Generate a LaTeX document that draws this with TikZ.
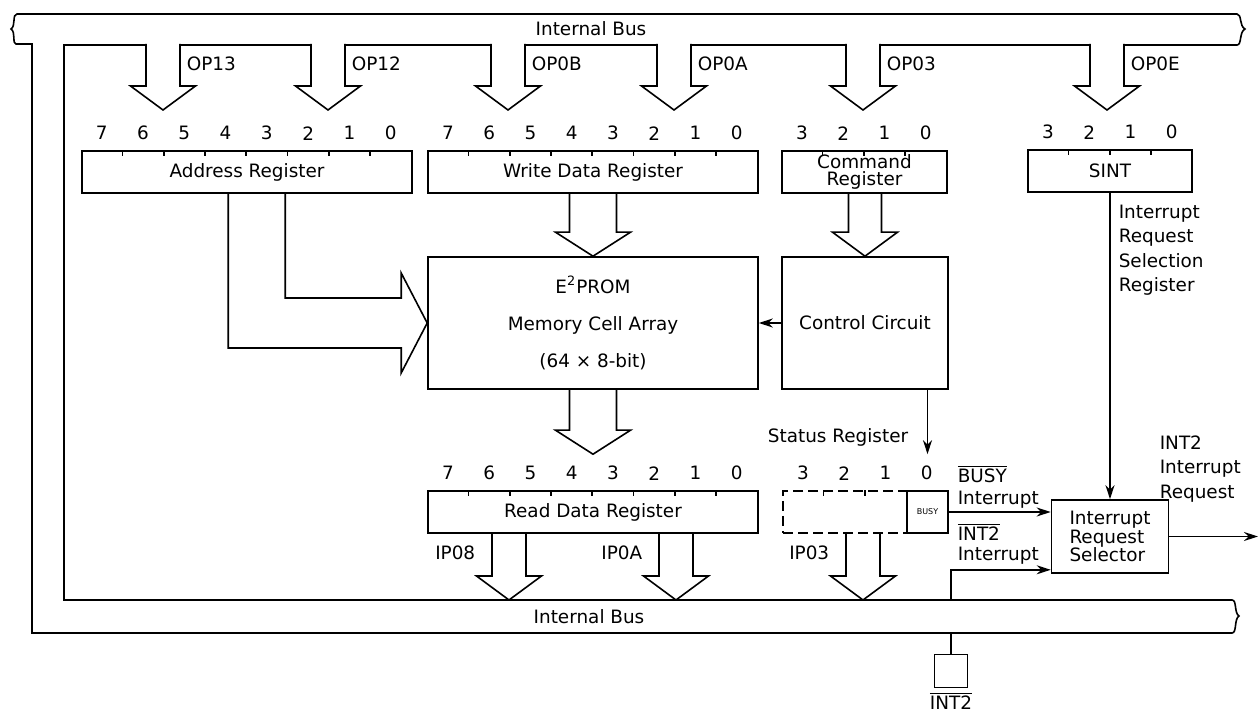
\documentclass[tikz,border=0pt]{standalone}
\usepackage{fontspec}
\setmainfont{DejaVu Sans}
\usetikzlibrary{arrows.meta, positioning, calc}

\tikzset{
    reg/.style={draw, minimum height=21pt, inner sep=0pt},
    blk/.style={draw, inner sep=0pt, align=center},
    lbl/.style={inner sep=0pt, align=left},
    bit/.style={inner sep=0pt},
    sig/.style={-{Stealth[length=7pt, width=4.5pt]}},
}

% hollow bus arrow: [options]{start}{tip}{stem half width}{head half width}
\newcommand{\fatdown}[5][]{%
    \draw[line join=miter, #1] let \p1=(#2), \p2=(#3) in
        (\x2-#4,\y1) -- (\x2-#4,\y2+12pt) -- (\x2-#5,\y2+12pt) -- (\x2,\y2)
        -- (\x2+#5,\y2+12pt) -- (\x2+#4,\y2+12pt) -- (\x2+#4,\y1);}

\begin{document}
\begin{tikzpicture}[x=0.5pt, y=-0.5pt, line width=0.8pt, font=\fontsize{9.2}{11}\selectfont]
    \useasboundingbox (0,0) rectangle (1259,715);

    % internal bus
    \draw (32,633) -- (32,44) -- (16,44) .. controls (12,44) and (16,32) .. (11,29)
        .. controls (16,26) and (12,14) .. (17,14) -- (1237,14)
        .. controls (1242,14) and (1239,26) .. (1245,29)
        .. controls (1239,32) and (1242,45) .. (1237,45) -- (64,45) -- (64,600) -- (1232,600)
        .. controls (1237,600) and (1234,613) .. (1239,616)
        .. controls (1234,619) and (1237,633) .. (1232,633) -- cycle;
    \node (bustop) at (591,29) {Internal Bus};
    \node (busbot) at (589,617) {Internal Bus};

    % registers and blocks
    \node[reg, minimum width=165pt] (addr) at (247,172) {Address Register};
    \node[reg, minimum width=165pt] (wdr) at (593,172) {Write Data Register};
    \node[reg, minimum width=82.5pt, align=center, font=\fontsize{9.2}{8.5}\selectfont] (cmd) at (864.5,172) {Command\\Register};
    \node[reg, minimum width=82pt] (sint) at (1110,171) {SINT};
    \node[blk, minimum width=165pt, minimum height=66pt, font=\fontsize{9.2}{18.5}\selectfont] (eeprom) at (593,323)
        {E\textsuperscript{2}PROM\\Memory Cell Array\\(64 × 8-bit)};
    \node[blk, minimum width=83pt, minimum height=66pt] (ctrl) at (865,323) {Control Circuit};
    \node[reg, minimum width=165pt] (rdr) at (593,512) {Read Data Register};
    \node[reg, dash pattern=on 5pt off 2.5pt, minimum width=62pt] (stat) at (845,512) {};
    \node[reg, minimum width=20.5pt, font=\fontsize{4}{4}\selectfont] (busy) at (927.5,512) {BUSY};
    \node[blk, minimum width=58.5pt, minimum height=36.5pt, align=left, font=\fontsize{9.2}{9.3}\selectfont] (irs) at (1110,536.5)
        {Interrupt\\Request\\Selector};
    \node[blk, minimum size=16.5pt] (pin) at (951,671) {};

    % bit numbers and ticks
    \foreach \r/\n in {addr/8, wdr/8, rdr/8, cmd/4, stat/4, sint/4}
        \foreach \k in {1,...,\n} {
            \pgfmathtruncatemacro{\bitno}{\n-\k}
            \node[bit] at ($(\r.north west)+(\k*41.25-20.6,-17)$) {\bitno};
        }
    \foreach \r/\n in {addr/7, wdr/7, rdr/7, cmd/3, stat/2, sint/3}
        \foreach \k in {1,...,\n}
            \draw ($(\r.north west)+(\k*41.25,0)$) -- ++(0,6);

    % outputs of the bus
    \coordinate (busin) at (0,44);
    \foreach \name/\x/\txt in {op13/163/OP13, op12/328/OP12, op0b/508/OP0B, op0a/674/OP0A, op03/863/OP03, op0e/1107/OP0E} {
        \coordinate (\name) at (\x,110);
        \fatdown[fill=white]{\name |- busin}{\name}{8.5pt}{16.25pt}
        \node[lbl, anchor=west] at ($(\name)+(23,-46)$) {\txt};
    }

    % inputs to the bus
    \foreach \name/\x/\txt/\r in {ip08/509/IP08/rdr, ip0a/676/IP0A/rdr, ip03/863/IP03/stat} {
        \coordinate (\name) at (\x,600);
        \fatdown{\r.south -| \name}{\name}{8.5pt}{16.25pt}
        \node[lbl, anchor=east] at ($(\name)+(-33,-47)$) {\txt};
    }

    \coordinate (rdtip) at ($(rdr.north)+(0,-36)$);
    \fatdown{wdr.south}{eeprom.north}{11.75pt}{18.75pt}
    \fatdown{eeprom.south}{rdtip}{11.75pt}{18.75pt}
    \fatdown{cmd.south}{ctrl.north}{8.25pt}{16.25pt}

    \draw[line join=miter] ($(addr.south west)+(147,0)$) |- ($(eeprom.west)+(-26,25)$) -- ++(0,25)
        -- (eeprom.west) -- ($(eeprom.west)+(-26,-50)$) -- ++(0,25) -| ($(addr.south west)+(204,0)$);

    % control and interrupt lines
    \draw[sig] (ctrl.west) -- (eeprom.east);
    \draw[sig] (ctrl.south -| busy.north) -- ($(busy.north)+(0,-36)$);
    \draw[sig] (sint.south) -- (irs.north);
    \draw[sig] (busy.east) -- (busy.east -| irs.west);
    \coordinate (inttap) at (951,600);
    \draw[sig] (inttap) |- ($(irs.south west)+(0,-4)$);
    \coordinate (irqout) at (1258,536.5);
    \draw[sig] (irs.east) -- (irqout);
    \coordinate (pintap) at (951,633);
    \draw (pintap) -- (pin.north);

    % labels
    \node (statlbl) at (838,437) {Status Register};
    \node[lbl, anchor=north west, font=\fontsize{9.2}{12.25}\selectfont] (sintlbl) at (1118,204)
        {Interrupt\\Request\\Selection\\Register};
    \node[lbl, anchor=north west, font=\fontsize{9.2}{12.25}\selectfont] (irqlbl) at (1159,435)
        {INT2\\Interrupt\\Request};
    \node[lbl, anchor=north west, font=\fontsize{9.2}{11}\selectfont] (busylbl) at (957,464)
        {$\overline{\mbox{BUSY}}$\\Interrupt};
    \node[lbl, anchor=north west, font=\fontsize{9.2}{10}\selectfont] (intlbl) at (957,522)
        {$\overline{\mbox{INT2}}$\\Interrupt};
    \node[inner sep=0pt] (pinlbl) at (951,701) {$\overline{\mbox{INT2}}$};
\end{tikzpicture}
\end{document}
